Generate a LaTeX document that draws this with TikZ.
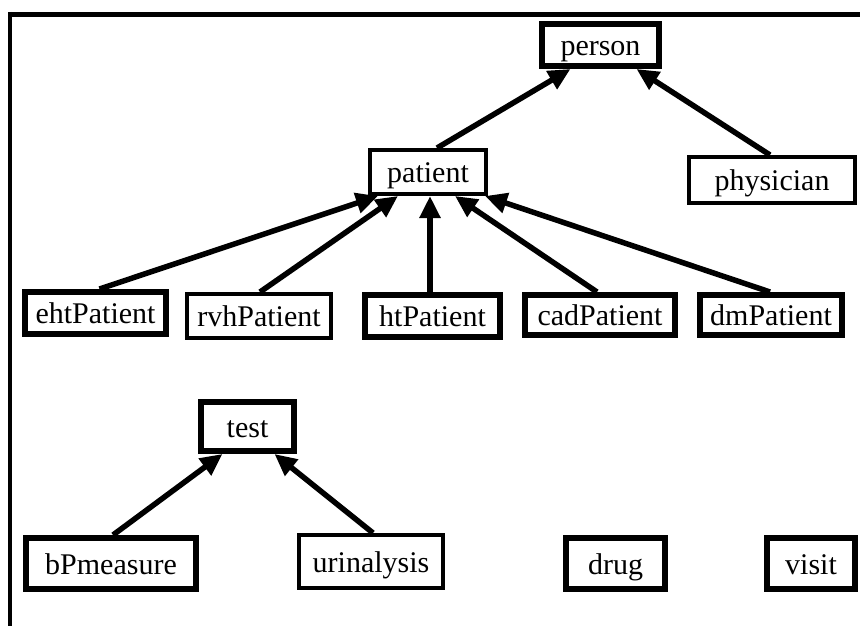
\documentclass[tikz,border=0pt]{standalone}
\usepackage{fontspec}
\setmainfont{Liberation Serif}
\usetikzlibrary{arrows.meta}
\begin{document}
\begin{tikzpicture}[x=1pt,y=-1pt,
  box/.style={draw=black,line width=4pt,fill=white,inner sep=0pt,
    text height=21pt,text depth=0pt,
    font=\fontsize{30}{32}\selectfont},
  heavybox/.style={box,line width=6pt},
  isa/.style={line width=5.5pt,-{Triangle[length=22pt,width=20pt]}}]
\useasboundingbox (0,0) rectangle (860,626);
% frame
\draw[line width=5pt] (8,14.5) -- (862,14.5);
\draw[line width=4pt] (10,12) -- (10,628);

% class nodes
\node[heavybox,minimum width=117pt,minimum height=42pt] (person) at (600.5,45) {person};
\node[box,minimum width=166pt,minimum height=46pt] (physician) at (772,180) {physician};
\node[box,minimum width=116pt,minimum height=44pt] (patient) at (428,172) {patient};
\node[heavybox,minimum width=141pt,minimum height=42pt] (eht) at (95.5,313) {ehtPatient};
\node[box,minimum width=144pt,minimum height=44pt] (rvh) at (259,316) {rvhPatient};
\node[heavybox,minimum width=135pt,minimum height=42pt] (ht) at (432.5,316) {htPatient};
\node[heavybox,minimum width=150pt,minimum height=40pt] (cad) at (600,315) {cadPatient};
\node[heavybox,minimum width=142pt,minimum height=40pt] (dm) at (771,315) {dmPatient};
\node[heavybox,minimum width=93pt,minimum height=49pt] (test) at (247.5,426.5) {test};
\node[heavybox,minimum width=170pt,minimum height=51pt] (bp) at (111,563.5) {bPmeasure};
\node[box,minimum width=144pt,minimum height=53pt] (urin) at (371,561.5) {urinalysis};
\node[heavybox,minimum width=99pt,minimum height=51pt] (drug) at (615.5,563.5) {drug};
\node[heavybox,minimum width=88pt,minimum height=51pt] (visit) at (811,563.5) {visit};

% is-a links
\draw[isa] ([xshift=9pt]patient.north) -- ([xshift=-30pt]person.south);
\draw[isa] ([xshift=-2pt]physician.north) -- ([xshift=36pt]person.south);
\draw[isa] ([xshift=4pt]eht.north) -- ([xshift=-50pt]patient.south);
\draw[isa] ([xshift=1pt]rvh.north) -- ([xshift=-30pt]patient.south);
\draw[isa] ([xshift=-2.5pt]ht.north) -- ([xshift=2pt]patient.south);
\draw[isa] ([xshift=-3pt]cad.north) -- ([xshift=27pt]patient.south);
\draw[isa] ([xshift=-1pt]dm.north) -- ([xshift=57pt]patient.south);
\draw[isa] ([xshift=2pt]bp.north) -- ([xshift=-25pt]test.south);
\draw[isa] ([xshift=2pt]urin.north) -- ([xshift=27pt]test.south);
\end{tikzpicture}
\end{document}
